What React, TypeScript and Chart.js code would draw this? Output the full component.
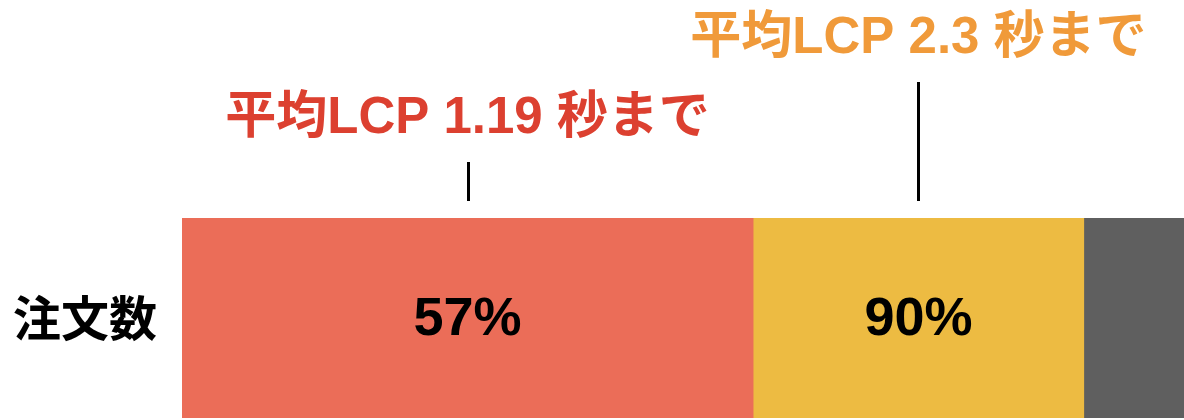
import React, { useEffect, useRef } from "react";
import { Chart, registerables } from "chart.js";

Chart.register(...registerables);

// data
const categories = ["注文数"];
const segmentShares = [57, 33, 10];
const segmentColors = ["#EB6D58", "#EDBB42", "#5F5F5F"];
const showCumulative = [true, true, false];
const annotationTexts = ["平均LCP 1.19 秒まで", "平均LCP 2.3 秒まで", null];
const annotationColors = ["#DC4030", "#F09A3A", null];
const annotationLevels = [0, 1, null];

const LATIN_FONT = '"Liberation Sans", Arial, "Noto Sans CJK JP", sans-serif';

const segmentPlugin = {
  id: "segmentLabels",
  afterDatasetsDraw(chart: Chart) {
    const ctx = chart.ctx;
    let running = 0;
    chart.data.datasets.forEach((ds, i) => {
      const meta = chart.getDatasetMeta(i);
      const bar: any = meta.data[0];
      if (!bar) return;
      const { x, base, y } = bar.getProps(["x", "base", "y"], true);
      const mid = (x + base) / 2;
      running += ds.data[0] as number;

      ctx.save();
      if (showCumulative[i]) {
        ctx.fillStyle = "#000";
        ctx.font = `bold 54px ${LATIN_FONT}`;
        ctx.textAlign = "center";
        ctx.textBaseline = "middle";
        ctx.fillText(`${running}%`, mid, y + 2);
      }
      const text = annotationTexts[i];
      const level = annotationLevels[i];
      if (text && level !== null) {
        const lineBottom = chart.chartArea.top - 17;
        const lineTop = 162 - level * 80;
        ctx.strokeStyle = "#000";
        ctx.lineWidth = 3;
        ctx.beginPath();
        ctx.moveTo(Math.round(mid) + 0.5, lineTop);
        ctx.lineTo(Math.round(mid) + 0.5, lineBottom);
        ctx.stroke();

        ctx.fillStyle = annotationColors[i] as string;
        ctx.font = `bold 51px ${LATIN_FONT}`;
        ctx.textAlign = "center";
        ctx.textBaseline = "alphabetic";
        ctx.fillText(text, mid, 133 - level * 80);
      }
      ctx.restore();
    });
  },
};

const App: React.FC = () => {
  const canvasRef = useRef<HTMLCanvasElement>(null);

  useEffect(() => {
    document.body.style.margin = "0";
    if (!canvasRef.current) return;
    const ctx = canvasRef.current.getContext("2d")!;

    const chart = new Chart(ctx, {
      type: "bar",
      data: {
        labels: categories,
        datasets: segmentShares.map((v, i) => ({
          data: [v],
          backgroundColor: segmentColors[i],
          borderWidth: 0,
          barPercentage: 1,
          categoryPercentage: 1,
        })),
      },
      options: {
        indexAxis: "y",
        animation: false,
        responsive: true,
        maintainAspectRatio: false,
        layout: { padding: { top: 218, bottom: 2, left: 0, right: 0 } },
        plugins: {
          legend: { display: false },
          tooltip: { enabled: false },
        },
        scales: {
          x: {
            stacked: true,
            min: 0,
            max: 100,
            display: false,
          },
          y: {
            stacked: true,
            grid: { display: false },
            border: { display: false },
            ticks: {
              color: "#000",
              padding: 17,
              font: { family: '"Noto Sans CJK JP", sans-serif', weight: "bold", size: 48 },
            },
            afterFit(scale: any) {
              scale.width = 182;
              // keep the big label from pushing the bar away from the bottom edge
              scale.paddingTop = 0;
              scale.paddingBottom = 0;
            },
          },
        },
      },
      plugins: [segmentPlugin],
    });

    return () => {
      chart.destroy();
    };
  }, []);

  return (
    <div style={{ position: "relative", width: 1184, height: 420 }}>
      <canvas ref={canvasRef}></canvas>
    </div>
  );
};

export default App;
